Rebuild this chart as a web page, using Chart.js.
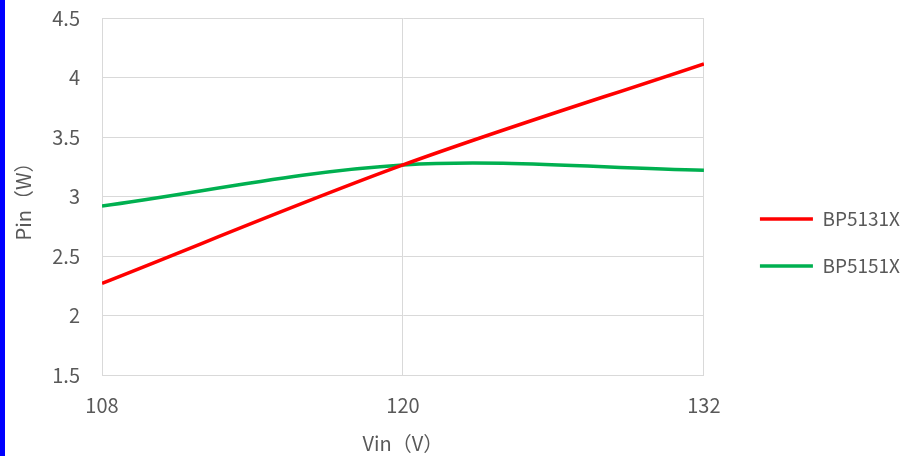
<!DOCTYPE html>
<html>
<head>
<meta charset="utf-8">
<script src="https://cdn.jsdelivr.net/npm/chart.js@4.4.0/dist/chart.umd.min.js"></script>
<style>
  html, body { margin: 0; padding: 0; background: #fff; }
  #wrap { position: relative; width: 910px; height: 456px; }
  #bar { position: absolute; left: 0; top: 0; width: 5px; height: 456px; background: #0000ff; }
</style>
</head>
<body>
<div id="wrap">
  <canvas id="myChart" width="910" height="456"></canvas>
  <div id="bar"></div>
</div>
<script>
const vin = [108, 120, 132];
const bp5131x = [2.27, 3.265, 4.115];
const bp5151x = [2.92, 3.265, 3.22];
const seriesNames = ['BP5131X', 'BP5151X'];

const gray = '#d9d9d9';
const textColor = '#595959';
const fontFamily = '"Noto Sans CJK SC", "Noto Sans", sans-serif';

const ctx = document.getElementById('myChart').getContext('2d');
const myChart = new Chart(ctx, {
    type: 'line',
    data: {
        datasets: [{
            label: seriesNames[0],
            data: vin.map((v, i) => ({x: v, y: bp5131x[i]})),
            borderColor: '#ff0000',
            backgroundColor: '#ff0000',
            borderWidth: 3.5,
            pointRadius: 0,
            tension: 0.33
        }, {
            label: seriesNames[1],
            data: vin.map((v, i) => ({x: v, y: bp5151x[i]})),
            borderColor: '#00b050',
            backgroundColor: '#00b050',
            borderWidth: 3.5,
            pointRadius: 0,
            tension: 0.33
        }]
    },
    options: {
        responsive: false,
        animation: false,
        layout: { padding: { top: 0, right: 0, bottom: 0, left: 0 } },
        plugins: {
            tooltip: { enabled: false },
            legend: {
                position: 'right',
                // empty title only pushes the items down a bit
                title: { display: true, text: '', padding: 0, font: { size: 20, lineHeight: 1.45 } },
                labels: {
                    usePointStyle: true,
                    pointStyle: 'line',
                    pointStyleWidth: 53,
                    padding: 28,
                    color: textColor,
                    font: { family: fontFamily, size: 19 }
                }
            }
        },
        scales: {
            x: {
                type: 'linear',
                min: 108,
                max: 132,
                border: { color: gray },
                grid: { color: gray, drawTicks: false },
                ticks: {
                    stepSize: 12,
                    padding: 18,
                    color: textColor,
                    font: { family: fontFamily, size: 20 }
                },
                title: {
                    display: true,
                    text: 'Vin（V）',
                    color: textColor,
                    font: { family: fontFamily, size: 20 },
                    padding: { top: 4, bottom: 1 }
                },
                afterFit: (s) => { s.height = 81; }
            },
            y: {
                min: 1.5,
                max: 4.5,
                border: { color: gray },
                grid: { color: gray, drawTicks: false },
                ticks: {
                    stepSize: 0.5,
                    padding: 22,
                    color: textColor,
                    font: { family: fontFamily, size: 20 },
                    callback: (v) => String(v)
                },
                title: {
                    display: true,
                    text: 'Pin（W）',
                    color: textColor,
                    font: { family: fontFamily, size: 20 },
                    padding: { top: 11, bottom: 0 }
                },
                afterFit: (s) => {
                    s.width = 102;
                    s.paddingTop = 18;
                    s.paddingBottom = 0;
                }
            },
            y2: {
                // hidden spacer between plot and legend
                position: 'right',
                display: false,
                afterFit: (s) => { s.width = 28; }
            }
        }
    }
});
</script>
</body>
</html>
